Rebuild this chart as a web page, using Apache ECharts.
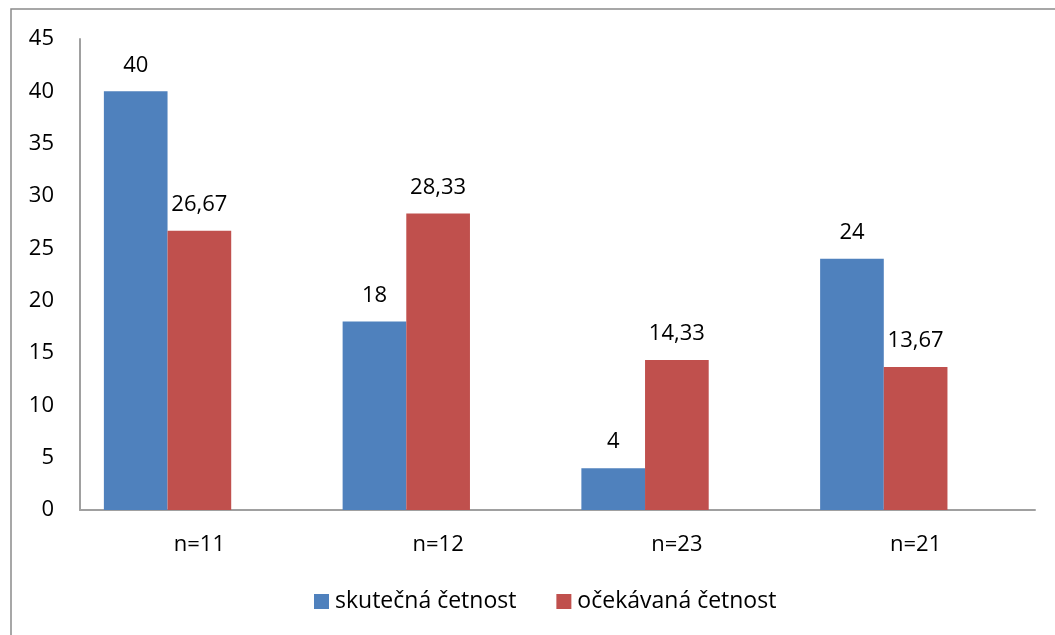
<!DOCTYPE html>
<html>
<head>
<meta charset="utf-8">
<script src="https://cdn.jsdelivr.net/npm/echarts@6/dist/echarts.min.js"></script>
<style>
html, body { margin: 0; padding: 0; background: #fff; }
#chart { width: 1055px; height: 635px; }
</style>
</head>
<body>
<div id="chart"></div>
<script>
var categories = ['n=11', 'n=12', 'n=23', 'n=21'];
var actual = [40, 18, 4, 24];
var expected = [26.67, 28.33, 14.33, 13.67];
// the source chart keeps an empty third slot in each cluster
var emptySlot = [null, null, null, null];
var seriesNames = ['skutečná četnost', 'očekávaná četnost'];

var font = 'Open Sans, Noto Sans, sans-serif';

function fmt(v) {
    return String(v.value).replace('.', ',');
}

var myChart = echarts.init(document.getElementById('chart'));
myChart.setOption({
    animation: false,
    textStyle: { fontFamily: font },
    graphic: [{
        type: 'rect',
        shape: { x: 11, y: 9, width: 1200, height: 800 },
        style: { fill: 'none', stroke: '#8a8a8a', lineWidth: 1.5 },
        silent: true
    }],
    legend: {
        data: seriesNames,
        bottom: 17,
        left: 309,
        itemWidth: 15,
        itemHeight: 15,
        itemGap: 40,
        icon: 'rect',
        textStyle: { fontSize: 23, color: '#000', fontFamily: font, padding: [0, 0, 0, 1] }
    },
    grid: { left: 80, right: 20, top: 39, bottom: 125, containLabel: false },
    xAxis: {
        type: 'category',
        data: categories,
        axisLine: { lineStyle: { color: '#a0a0a0', width: 2 } },
        axisTick: { show: false },
        axisLabel: { fontSize: 22, color: '#000', margin: 24 }
    },
    yAxis: {
        type: 'value',
        min: 0,
        max: 45,
        interval: 5,
        splitLine: { show: false },
        axisLine: { show: true, lineStyle: { color: '#a0a0a0', width: 2 } },
        axisTick: { show: false },
        axisLabel: { fontSize: 22, color: '#000', margin: 26 }
    },
    series: [
        {
            name: seriesNames[0],
            type: 'bar',
            data: actual,
            barGap: '0%',
            barCategoryGap: '20%',
            itemStyle: { color: '#4f81bd' },
            label: { show: true, position: 'top', distance: 15, fontSize: 22, color: '#000', formatter: fmt }
        },
        {
            name: seriesNames[1],
            type: 'bar',
            data: expected,
            itemStyle: { color: '#c0504d' },
            label: { show: true, position: 'top', distance: 15, fontSize: 22, color: '#000', formatter: fmt }
        },
        {
            name: 'empty',
            type: 'bar',
            data: emptySlot,
            itemStyle: { color: 'transparent' }
        }
    ]
});
</script>
</body>
</html>
